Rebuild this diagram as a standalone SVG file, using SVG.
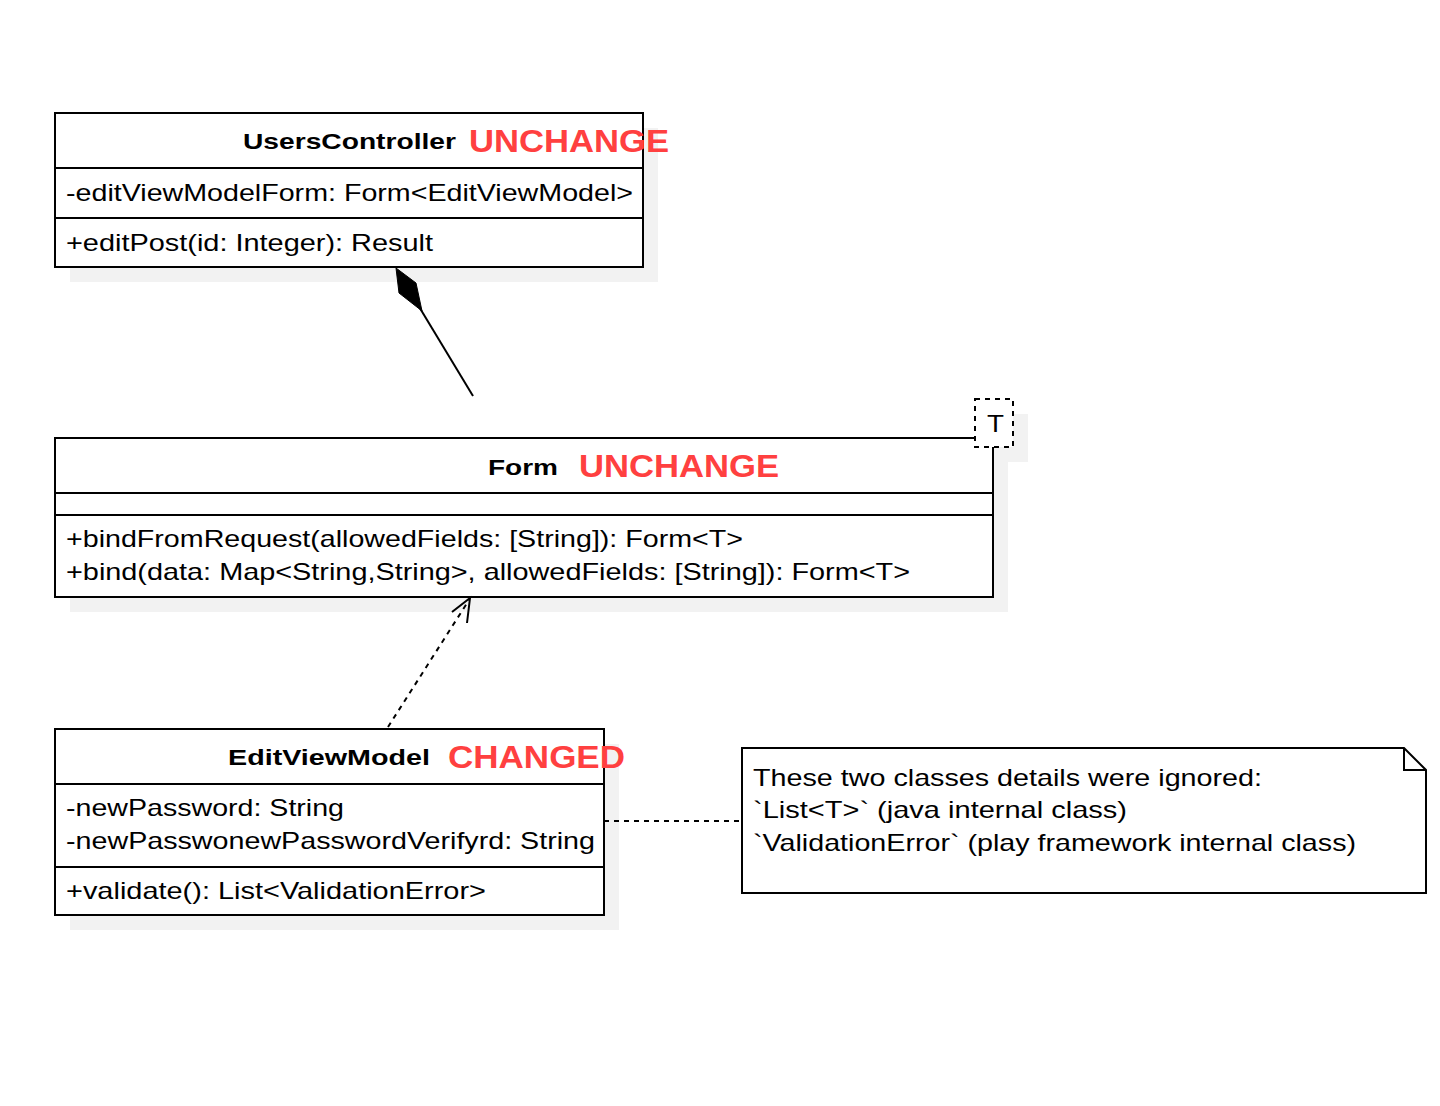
<svg xmlns="http://www.w3.org/2000/svg" width="1440" height="1106" viewBox="0 0 1440 1106">
  <style>
    .box { fill: #ffffff; stroke: #000000; stroke-width: 2; }
    .shadow { fill: #f2f2f2; stroke: none; }
    .sep { stroke: #000000; stroke-width: 2; }
    .t { font-family: "Liberation Sans", Arial, sans-serif; font-size: 24px; fill: #000000; }
    .cn { font-family: "Liberation Sans", Arial, sans-serif; font-size: 22px; font-weight: bold; fill: #000000; }
    .tag { font-family: "Liberation Sans", Arial, sans-serif; font-size: 32px; font-weight: bold; fill: #ff4040; }
    .conn { stroke: #000000; stroke-width: 2; fill: none; }
    .dash { stroke-dasharray: 5 5; }
  </style>
  <rect width="1440" height="1106" fill="#ffffff"/>

  <g id="UsersController">
    <rect class="shadow" x="70" y="128" width="588" height="154"/>
    <rect class="box" x="55" y="113" width="588" height="154"/>
    <line class="sep" x1="55" y1="168" x2="643" y2="168"/>
    <line class="sep" x1="55" y1="218" x2="643" y2="218"/>
    <text class="cn" x="243" y="149" textLength="213" lengthAdjust="spacingAndGlyphs">UsersController</text>
    <text class="tag" x="469" y="152" textLength="200" lengthAdjust="spacingAndGlyphs">UNCHANGE</text>
    <text class="t" x="66" y="201" textLength="567" lengthAdjust="spacingAndGlyphs">-editViewModelForm: Form&lt;EditViewModel&gt;</text>
    <text class="t" x="66" y="251" textLength="367" lengthAdjust="spacingAndGlyphs">+editPost(id: Integer): Result</text>
  </g>

  <g id="Form">
    <rect class="shadow" x="70" y="453" width="938" height="159"/>
    <rect class="shadow" x="990" y="414" width="38" height="48"/>
    <rect class="box" x="55" y="438" width="938" height="159"/>
    <line class="sep" x1="55" y1="493" x2="993" y2="493"/>
    <line class="sep" x1="55" y1="515" x2="993" y2="515"/>
    <rect class="box dash" x="975" y="399" width="38" height="48"/>
    <text class="t" x="987" y="432" font-size="26" textLength="17" lengthAdjust="spacingAndGlyphs">T</text>
    <text class="cn" x="488" y="475" textLength="70" lengthAdjust="spacingAndGlyphs">Form</text>
    <text class="tag" x="579" y="477" textLength="200" lengthAdjust="spacingAndGlyphs">UNCHANGE</text>
    <text class="t" x="66" y="547" textLength="677" lengthAdjust="spacingAndGlyphs">+bindFromRequest(allowedFields: [String]): Form&lt;T&gt;</text>
    <text class="t" x="66" y="580" textLength="844" lengthAdjust="spacingAndGlyphs">+bind(data: Map&lt;String,String&gt;, allowedFields: [String]): Form&lt;T&gt;</text>
  </g>

  <g id="EditViewModel">
    <rect class="shadow" x="70" y="744" width="549" height="186"/>
    <rect class="box" x="55" y="729" width="549" height="186"/>
    <line class="sep" x1="55" y1="784" x2="604" y2="784"/>
    <line class="sep" x1="55" y1="867" x2="604" y2="867"/>
    <text class="cn" x="228" y="765" textLength="202" lengthAdjust="spacingAndGlyphs">EditViewModel</text>
    <text class="tag" x="448" y="768" textLength="177" lengthAdjust="spacingAndGlyphs">CHANGED</text>
    <text class="t" x="66" y="816" textLength="278" lengthAdjust="spacingAndGlyphs">-newPassword: String</text>
    <text class="t" x="66" y="849" textLength="529" lengthAdjust="spacingAndGlyphs">-newPasswonewPasswordVerifyrd: String</text>
    <text class="t" x="66" y="899" textLength="420" lengthAdjust="spacingAndGlyphs">+validate(): List&lt;ValidationError&gt;</text>
  </g>

  <g id="Note">
    <path class="box" d="M742,748 H1404 L1426,770 V893 H742 Z"/>
    <path class="conn" d="M1404,748 V770 H1426"/>
    <text class="t" x="753" y="786" textLength="509" lengthAdjust="spacingAndGlyphs">These two classes details were ignored:</text>
    <text class="t" x="753" y="818" textLength="374" lengthAdjust="spacingAndGlyphs">`List&lt;T&gt;` (java internal class)</text>
    <text class="t" x="753" y="851" textLength="603" lengthAdjust="spacingAndGlyphs">`ValidationError` (play framework internal class)</text>
  </g>

  <g id="connectors">
    <line class="conn" x1="473" y1="396" x2="418" y2="305"/>
    <polygon points="396,268 416,283 422,311 399,293" fill="#000000" stroke="#000000" stroke-width="1"/>
    <line class="conn dash" x1="388" y1="727" x2="469" y2="600"/>
    <polyline class="conn" points="452,612 470,598 467,623"/>
    <line class="conn dash" x1="604" y1="821" x2="742" y2="821"/>
  </g>
</svg>
